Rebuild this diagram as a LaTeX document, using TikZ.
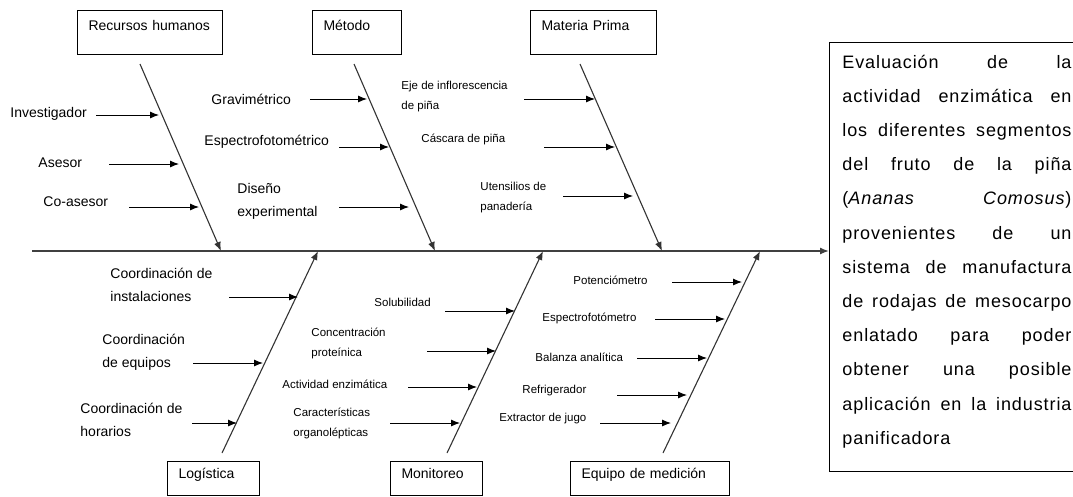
\documentclass[tikz,border=0pt]{standalone}
\usepackage{fontspec}
\setmainfont{Liberation Sans}
\newfontfamily\goalfont[LetterSpace=5]{Liberation Sans}
\usetikzlibrary{arrows.meta}
\tikzset{
ishikawa/.style={
    x=1pt,
    y=-1pt,
    >={Latex[length=9pt,width=7pt]},
    line width=0.9pt
},
catbox/.style={
    draw,
    line width=1pt,
    anchor=north west,
    align=left,
    inner xsep=11pt,
    inner ysep=0pt,
    font=\fontsize{14}{17}\selectfont
},
topcat/.style={
    catbox,
    text height=20pt,
    text depth=24pt
},
botcat/.style={
    catbox,
    text height=17pt,
    text depth=17pt
},
goalbox/.style={
    draw,
    line width=1pt,
    anchor=north west,
    minimum width=300pt,
    minimum height=429pt
},
goaltext/.style={
    anchor=base west,
    inner sep=0pt,
    text width=229pt,
    align=justify,
    font=\goalfont\fontsize{18}{34.2}\selectfont
},
bigcause/.style={
    anchor=west,
    align=left,
    inner sep=0pt,
    font=\fontsize{14}{23}\selectfont
},
smallcause/.style={
    anchor=west,
    align=left,
    inner sep=0pt,
    font=\fontsize{11.5}{20}\selectfont
},
spine/.style={
    ->,
    line width=1.4pt,
    draw=black!75
},
bone/.style={
    ->,
    line width=1.1pt,
    draw=black!80
},
sub/.style={
    ->,
    line width=0.9pt
}}

\begin{document}
\begin{tikzpicture}[ishikawa]
\useasboundingbox (0,0) rectangle (1073,496);

% effect
\node[goalbox]    (goal)    at (829,42)    {};
\node[goaltext]   (goaltxt) at (842,68)    {Evaluación de la\linebreak
actividad enzimática en\linebreak
los diferentes segmentos\linebreak
del fruto de la piña\linebreak
(\textit{Ananas} \textit{Comosus})\linebreak
provenientes de un\linebreak
sistema de manufactura\linebreak
de rodajas de mesocarpo\linebreak
enlatado para poder\linebreak
obtener una posible\linebreak
aplicación en la industria\linebreak
panificadora};

% categories
\node[topcat, text width=123pt]    (rh)   at (77,10)    {Recursos humanos};
\node[topcat, text width=67pt]     (met)  at (312,10)   {Método};
\node[topcat, text width=104pt]    (mp)   at (530,10)   {Materia Prima};
\node[botcat, text width=70pt]     (log)  at (167,461)  {Logística};
\node[botcat, text width=70pt]     (mon)  at (390,461)  {Monitoreo};
\node[botcat, text width=137pt]    (eqm)  at (570,461)  {Equipo de medición};

% spine and bones
\coordinate (tail)      at (32,251);
\coordinate (rh top)    at (140,64);
\coordinate (rh end)    at (221,251);
\coordinate (met top)   at (354,64);
\coordinate (met end)   at (435,251);
\coordinate (mp top)    at (580,64);
\coordinate (mp end)    at (662,251);
\coordinate (log foot)  at (222,453);
\coordinate (log end)   at (318,251);
\coordinate (mon foot)  at (447,453);
\coordinate (mon end)   at (543,251);
\coordinate (eqm foot)  at (663,453);
\coordinate (eqm end)   at (760,251);

\draw[spine]    (tail)      --    (tail -| goal.west);
\draw[bone]     (rh top)    --    (rh end);
\draw[bone]     (met top)   --    (met end);
\draw[bone]     (mp top)    --    (mp end);
\draw[bone]     (log foot)  --    (log end);
\draw[bone]     (mon foot)  --    (mon end);
\draw[bone]     (eqm foot)  --    (eqm end);

% recursos humanos
\node[bigcause]    (inv)    at (10,114)     {Investigador};
\node[bigcause]    (ase)    at (38,163)     {Asesor};
\node[bigcause]    (coa)    at (43,202)     {Co-asesor};
\coordinate (inv a) at (96,115);    \coordinate (inv b) at (159,115);
\coordinate (ase a) at (109,164);   \coordinate (ase b) at (179,164);
\coordinate (coa a) at (129,207);   \coordinate (coa b) at (199,207);
\draw[sub] (inv a) -- (inv b);
\draw[sub] (ase a) -- (ase b);
\draw[sub] (coa a) -- (coa b);

% metodo
\node[bigcause]    (grav)   at (211,99)     {Gravimétrico};
\node[bigcause]    (espf)   at (204,142)    {Espectrofotométrico};
\node[bigcause]    (dis)    at (237,201)    {Diseño\\experimental};
\coordinate (grav a) at (310,99);   \coordinate (grav b) at (367,99);
\coordinate (espf a) at (339,147);  \coordinate (espf b) at (389,147);
\coordinate (dis a)  at (339,207);  \coordinate (dis b)  at (409,207);
\draw[sub] (grav a) -- (grav b);
\draw[sub] (espf a) -- (espf b);
\draw[sub] (dis a)  -- (dis b);

% materia prima
\node[smallcause]  (eje)    at (401,97)     {Eje de inflorescencia\\de piña};
\node[smallcause]  (cas)    at (421,139)    {Cáscara de piña};
\node[smallcause]  (ute)    at (480,198)    {Utensilios de\\panadería};
\coordinate (eje a) at (524,99);    \coordinate (eje b) at (595,99);
\coordinate (cas a) at (544,147);   \coordinate (cas b) at (615,147);
\coordinate (ute a) at (563,196);   \coordinate (ute b) at (633,196);
\draw[sub] (eje a) -- (eje b);
\draw[sub] (cas a) -- (cas b);
\draw[sub] (ute a) -- (ute b);

% logistica
\node[bigcause]    (ins)    at (110,285)    {Coordinación de\\instalaciones};
\node[bigcause]    (equ)    at (102,352)    {Coordinación\\de equipos};
\node[bigcause]    (hor)    at (80,420)     {Coordinación de\\horarios};
\coordinate (ins a) at (229,297);   \coordinate (ins b) at (298,297);
\coordinate (equ a) at (193,363);   \coordinate (equ b) at (263,363);
\coordinate (hor a) at (192,423);   \coordinate (hor b) at (237,423);
\draw[sub] (ins a) -- (ins b);
\draw[sub] (equ a) -- (equ b);
\draw[sub] (hor a) -- (hor b);

% monitoreo
\node[smallcause]  (sol)    at (374,302)    {Solubilidad};
\node[smallcause]  (con)    at (311,343)    {Concentración\\proteínica};
\node[smallcause]  (act)    at (282,384)    {Actividad enzimática};
\node[smallcause]  (car)    at (293,423)    {Características\\organolépticas};
\coordinate (sol a) at (445,311);   \coordinate (sol b) at (515,311);
\coordinate (con a) at (427,351);   \coordinate (con b) at (496,351);
\coordinate (act a) at (408,387);   \coordinate (act b) at (477,387);
\coordinate (car a) at (390,423);   \coordinate (car b) at (460,423);
\draw[sub] (sol a) -- (sol b);
\draw[sub] (con a) -- (con b);
\draw[sub] (act a) -- (act b);
\draw[sub] (car a) -- (car b);

% equipo de medicion
\node[smallcause]  (pot)    at (573,280)    {Potenciómetro};
\node[smallcause]  (esp)    at (542,318)    {Espectrofotómetro};
\node[smallcause]  (bal)    at (535,357)    {Balanza analítica};
\node[smallcause]  (ref)    at (522,391)    {Refrigerador};
\node[smallcause]  (ext)    at (499,419)    {Extractor de jugo};
\coordinate (pot a) at (672,282);   \coordinate (pot b) at (742,282);
\coordinate (esp a) at (655,319);   \coordinate (esp b) at (725,319);
\coordinate (bal a) at (637,358);   \coordinate (bal b) at (707,358);
\coordinate (ref a) at (617,395);   \coordinate (ref b) at (687,395);
\coordinate (ext a) at (600,423);   \coordinate (ext b) at (671,423);
\draw[sub] (pot a) -- (pot b);
\draw[sub] (esp a) -- (esp b);
\draw[sub] (bal a) -- (bal b);
\draw[sub] (ref a) -- (ref b);
\draw[sub] (ext a) -- (ext b);
\end{tikzpicture}
\end{document}
